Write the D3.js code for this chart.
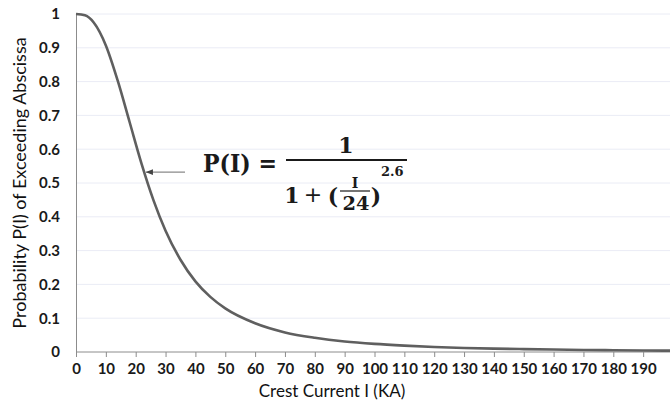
<!DOCTYPE html>
<html>
<head>
<meta charset="utf-8">
<script src="https://cdn.jsdelivr.net/npm/d3@7"></script>
<style>
    body{margin:0;background:#fff;}
    svg{display:block;}
    .eq{font-family:"DejaVu Serif",serif;font-weight:700;fill:#1a1a1a;}
</style>
</head>
<body>
<svg id="chart" width="670" height="406"></svg>
<script>
// crest current (KA) and probability
const current=[0,3,6,10,14,18,22,26,30,35,40,45,50,60,70,80,90,100,110,120,130,140,150,160,170,180,190,200]
const prob=[1,0.996,0.974,0.907,0.802,0.679,0.556,0.448,0.359,0.273,0.209,0.163,0.129,0.085,0.058,0.042,0.031,0.024,0.019,0.015,0.012,0.010,0.0085,0.0072,0.0061,0.0053,0.0046,0.004]

const x_ticks=[0,10,20,30,40,50,60,70,80,90,100,110,120,130,140,150,160,170,180,190]
const y_ticks=[0,0.1,0.2,0.3,0.4,0.5,0.6,0.7,0.8,0.9,1]
const y_tick_labels=['0','0.1','0.2','0.3','0.4','0.5','0.6','0.7','0.8','0.9','1']

// where the arrow points on the curve
const arrow_at={I:22.7,P:0.532}

const m={left:76,top:14,bottom:352}

const svg=d3.select('#chart')

const x=d3.scaleLinear().domain([0,200]).range([m.left,m.left+597])
const y=d3.scaleLinear().domain([0,1]).range([m.bottom,m.top])

// grid
svg.append('g')
    .selectAll('line')
    .data(y_ticks.slice(1))
    .join('line')
    .attr('x1',m.left).attr('x2',670)
    .attr('y1',d=>y(d)).attr('y2',d=>y(d))
    .attr('stroke','#eaecf5').attr('stroke-width',1)

function style_ticks(g){
    g.selectAll('.tick text')
        .attr('font-family',null).attr('font-size',null)
        .style('font-family','Lato,"Open Sans",sans-serif')
        .style('font-weight','700')
        .style('font-size','15px')
        .style('fill','#1a1a1a')
}

// x axis
const gx=svg.append('g')
    .attr('transform',`translate(0,${m.bottom})`)
    .call(d3.axisBottom(x).tickValues(x_ticks).tickSize(5).tickSizeOuter(0).tickPadding(6))
gx.select('.domain').attr('stroke','#8c8c8c').attr('d',`M${m.left},0H670`)
gx.selectAll('.tick line').attr('stroke','#8c8c8c')
style_ticks(gx)

// y axis
const gy=svg.append('g')
    .attr('transform',`translate(${m.left},0)`)
    .call(d3.axisLeft(y).tickValues(y_ticks).tickFormat((d,i)=>y_tick_labels[i]).tickSize(0).tickPadding(16))
gy.select('.domain').attr('stroke','#8c8c8c')
style_ticks(gy)

// curve
const line=d3.line()
    .x((d,i)=>x(current[i]))
    .y(d=>y(d))
    .curve(d3.curveMonotoneX)

svg.append('path')
    .datum(prob)
    .attr('d',line)
    .attr('fill','none')
    .attr('stroke','#5f5f5f')
    .attr('stroke-width',2.6)

// titles
svg.append('text')
    .attr('x',332).attr('y',397)
    .attr('text-anchor','middle')
    .style('font-family','Lato,sans-serif').style('font-size','17px').style('fill','#111')
    .text('Crest Current I (KA)')

svg.append('text')
    .attr('transform','translate(26,183) rotate(-90)')
    .attr('text-anchor','middle')
    .style('font-family','Lato,sans-serif').style('font-size','18px').style('fill','#111')
    .text('Probability P(I) of Exceeding Abscissa')

// arrow
const defs=svg.append('defs')
defs.append('marker')
    .attr('id','head')
    .attr('viewBox','0 0 10 10')
    .attr('refX',10).attr('refY',5)
    .attr('markerWidth',6).attr('markerHeight',6)
    .attr('orient','auto')
    .append('path').attr('d','M0,1 L10,5 L0,9 Z').attr('fill','#444')

svg.append('line')
    .attr('x1',185).attr('y1',y(arrow_at.P))
    .attr('x2',x(arrow_at.I)+2).attr('y2',y(arrow_at.P))
    .attr('stroke','#8a8a8a').attr('stroke-width',1.2)
    .attr('marker-end','url(#head)')

// formula
const eq=svg.append('g').attr('class','eq')
eq.append('text').attr('x',203).attr('y',172).attr('textLength',74).attr('lengthAdjust','spacingAndGlyphs').style('font-size','25px').text('P(I) =')
eq.append('line').attr('x1',286).attr('x2',407).attr('y1',160).attr('y2',160).attr('stroke','#1a1a1a').attr('stroke-width',2)
eq.append('text').attr('x',346).attr('y',153).attr('text-anchor','middle').style('font-size','22px').text('1')
eq.append('text').attr('x',292).attr('y',203).attr('text-anchor','middle').style('font-size','22px').text('1')
eq.append('text').attr('x',313).attr('y',202).attr('text-anchor','middle').style('font-family','"DejaVu Sans",sans-serif').style('font-weight','400').style('font-size','22px').text('+')
eq.append('text').attr('x',333).attr('y',204).attr('text-anchor','middle').style('font-size','22px').text('(')
eq.append('text').attr('x',355).attr('y',188).attr('text-anchor','middle').style('font-size','14px').text('I')
eq.append('line').attr('x1',340).attr('x2',370).attr('y1',191).attr('y2',191).attr('stroke','#1a1a1a').attr('stroke-width',1.2)
eq.append('text').attr('x',356).attr('y',210).attr('text-anchor','middle').attr('textLength',27).attr('lengthAdjust','spacingAndGlyphs').style('font-size','19px').text('24')
eq.append('text').attr('x',376).attr('y',204).attr('text-anchor','middle').style('font-size','22px').text(')')
eq.append('text').attr('x',381).attr('y',176).style('font-size','13px').text('2.6')
</script>
</body>
</html>
